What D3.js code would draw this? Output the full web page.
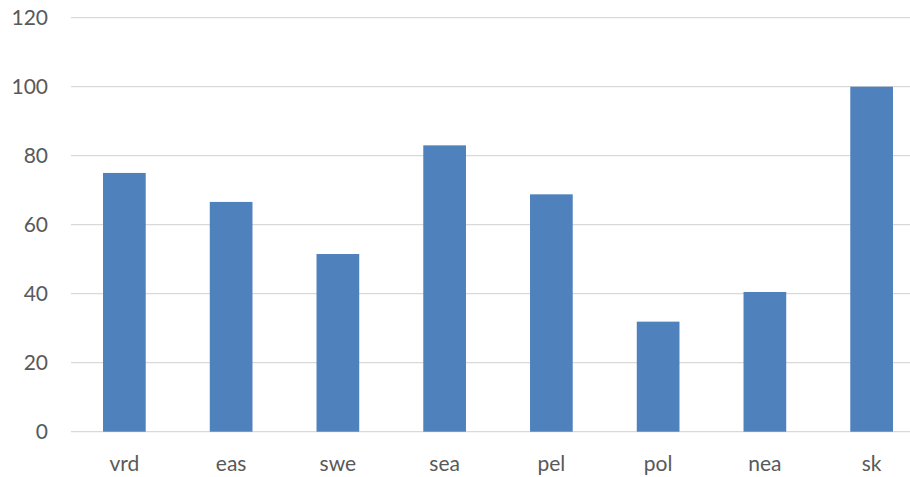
<!DOCTYPE html>
<html>
<head>
<meta charset="utf-8">
<script src="https://cdn.jsdelivr.net/npm/d3@7"></script>
<style>
  html, body { margin: 0; padding: 0; background: #ffffff; }
  svg { display: block; }
  text { font-family: Lato, "Open Sans", sans-serif; fill: #595959; }
</style>
</head>
<body>
<svg id="chart" width="910" height="477"></svg>
<script>
// Data
const categories = ["vrd", "eas", "swe", "sea", "pel", "pol", "nea", "sk"];
const values = [75, 66.6, 51.5, 83, 68.8, 31.9, 40.5, 100];
const yTicks = [0, 20, 40, 60, 80, 100, 120];

const svg = d3.select("#chart");
const plot = { left: 71, right: 925, top: 17.7, bottom: 431.7 };

const x = d3.scaleBand()
  .domain(categories)
  .range([plot.left, plot.right])
  .paddingInner(0.6)
  .paddingOuter(0.3);

const y = d3.scaleLinear()
  .domain([0, 120])
  .range([plot.bottom, plot.top]);

// Horizontal gridlines
svg.append("g")
  .selectAll("line")
  .data(yTicks)
  .join("line")
  .attr("x1", plot.left)
  .attr("x2", plot.right)
  .attr("y1", d => y(d))
  .attr("y2", d => y(d))
  .attr("stroke", "#d9d9d9")
  .attr("stroke-width", 1.3);

// Bars
svg.append("g")
  .selectAll("rect")
  .data(categories)
  .join("rect")
  .attr("x", d => x(d))
  .attr("width", x.bandwidth())
  .attr("y", (d, i) => y(values[i]))
  .attr("height", (d, i) => y(0) - y(values[i]))
  .attr("fill", "#4f81bd");

// Y-axis labels
svg.append("g")
  .selectAll("text")
  .data(yTicks)
  .join("text")
  .attr("x", 48)
  .attr("y", d => y(d))
  .attr("dy", "0.36em")
  .attr("text-anchor", "end")
  .attr("font-size", 21)
  .text(d => d);

// X-axis labels
svg.append("g")
  .selectAll("text")
  .data(categories)
  .join("text")
  .attr("x", d => x(d) + x.bandwidth() / 2)
  .attr("y", 471)
  .attr("text-anchor", "middle")
  .attr("font-size", 21)
  .text(d => d);
</script>
</body>
</html>
